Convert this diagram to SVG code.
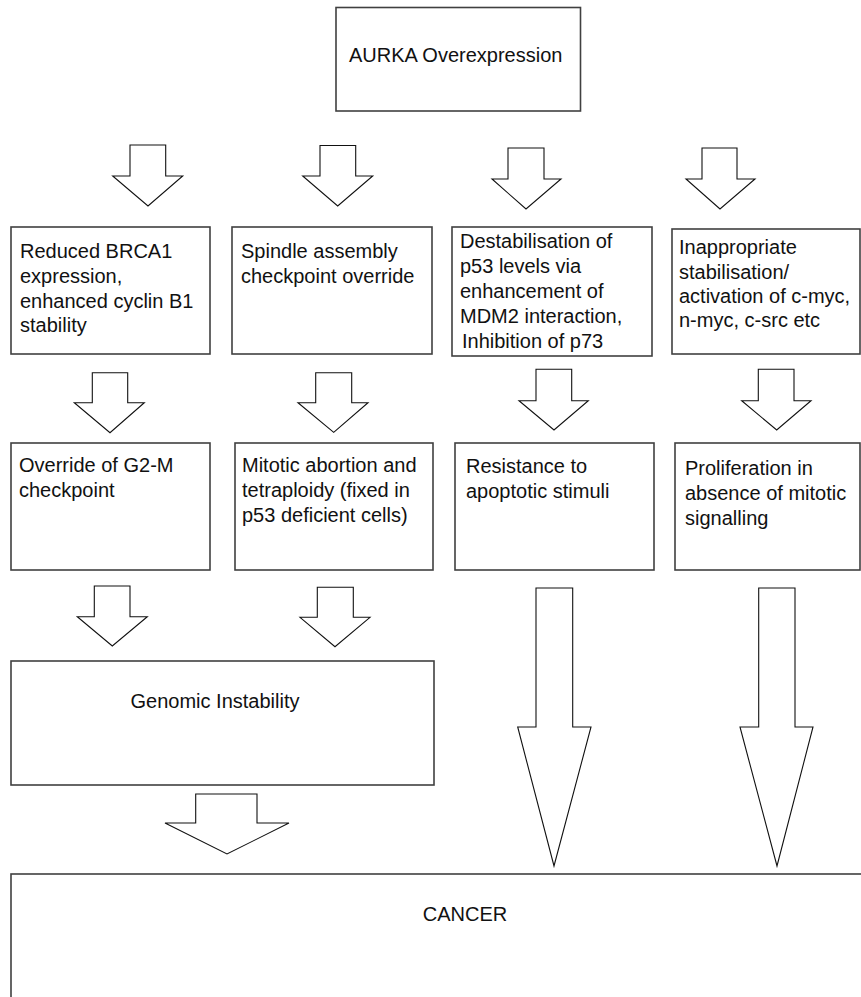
<svg xmlns="http://www.w3.org/2000/svg" width="861" height="997" viewBox="0 0 861 997">
<style>
.box{fill:#fff;stroke:#404040;stroke-width:1.6}
.arr{fill:#fff;stroke:#111;stroke-width:1.1;stroke-linejoin:miter}
text{font-family:"Liberation Sans",Arial,sans-serif;font-size:20px;fill:#111}
.c{text-anchor:middle}
</style>
<rect width="861" height="997" fill="#fff"/>
<g id="connectors">
<polygon class="arr" points="130,145 165.7,145 165.7,176 182.7,176 148,206 112.7,176 130,176"/>
<polygon class="arr" points="320,145.5 355.7,145.5 355.7,176 372.7,176 337.7,206 302.7,176 320,176"/>
<polygon class="arr" points="508,148 544,148 544,179 561,179 526,209 492,179 508,179"/>
<polygon class="arr" points="702,148 737,148 737,179 755,179 720,209 686,179 702,179"/>
<polygon class="arr" points="92.3,372.7 127.7,372.7 127.7,402.7 144.3,402.7 110,432.7 74.3,402.7 92.3,402.7"/>
<polygon class="arr" points="315.7,372.7 351.7,372.7 351.7,402.7 368,402.7 333.7,432.3 298,402.7 315.7,402.7"/>
<polygon class="arr" points="536,369.3 571.7,369.3 571.7,400.7 588.3,400.7 554,430 519,400.7 536,400.7"/>
<polygon class="arr" points="758.3,369.3 794,369.3 794,400.7 811,400.7 776.7,430 741.7,400.7 758.3,400.7"/>
<polygon class="arr" points="94.3,586 130,586 130,616.7 147.3,616.7 112.3,646 77.3,616.7 94.3,616.7"/>
<polygon class="arr" points="317.3,587.3 353.3,587.3 353.3,617.3 370,617.3 335,646.7 300,617.3 317.3,617.3"/>
<polygon class="arr" points="536,588 572.7,588 572.7,727 591,727 554,866 517.7,727 536,727"/>
<polygon class="arr" points="758.7,588 795,588 795,727 813,727 777,866 740,727 758.7,727"/>
<polygon class="arr" points="195.7,794 257,794 257,823 289,823 227,854 165,823 195.7,823"/>
</g>
<g id="aurka">
<rect class="box" x="336" y="7.5" width="244.5" height="103.5"/>
<text x="349" y="62">AURKA Overexpression</text>
</g>
<g id="brca1">
<rect class="box" x="11" y="227" width="199" height="127"/>
<text x="20" y="258">Reduced BRCA1</text>
<text x="20" y="283">expression,</text>
<text x="20" y="308">enhanced cyclin B1</text>
<text x="20" y="332">stability</text>
</g>
<g id="spindle">
<rect class="box" x="232" y="227" width="200" height="127"/>
<text x="241" y="258">Spindle assembly</text>
<text x="241" y="283">checkpoint override</text>
</g>
<g id="p53">
<rect class="box" x="452" y="227" width="200" height="129"/>
<text x="460" y="248">Destabilisation of</text>
<text x="460" y="273">p53 levels via</text>
<text x="460" y="298">enhancement of</text>
<text x="460" y="323">MDM2 interaction,</text>
<text x="462" y="348">Inhibition of p73</text>
</g>
<g id="myc">
<rect class="box" x="672" y="229" width="188" height="125"/>
<text x="679" y="254">Inappropriate</text>
<text x="679" y="279">stabilisation/</text>
<text x="679" y="303">activation of c-myc,</text>
<text x="679" y="327">n-myc, c-src etc</text>
</g>
<g id="g2m">
<rect class="box" x="11" y="443" width="199" height="127"/>
<text x="19" y="472">Override of G2-M</text>
<text x="19" y="497">checkpoint</text>
</g>
<g id="mitotic">
<rect class="box" x="235" y="443" width="198" height="127"/>
<text x="242" y="472">Mitotic abortion and</text>
<text x="242" y="497">tetraploidy (fixed in</text>
<text x="242" y="522">p53 deficient cells)</text>
</g>
<g id="apoptosis">
<rect class="box" x="455" y="443" width="199" height="127"/>
<text x="466" y="473">Resistance to</text>
<text x="466" y="498">apoptotic stimuli</text>
</g>
<g id="proliferation">
<rect class="box" x="675" y="443" width="185" height="127"/>
<text x="685" y="475">Proliferation in</text>
<text x="685" y="500">absence of mitotic</text>
<text x="685" y="525">signalling</text>
</g>
<g id="genomic">
<rect class="box" x="11" y="661" width="423" height="124"/>
<text class="c" x="215" y="708">Genomic Instability</text>
</g>
<g id="cancer">
<rect class="box" x="11" y="874" width="860" height="140"/>
<text class="c" x="465" y="921">CANCER</text>
</g>
</svg>
